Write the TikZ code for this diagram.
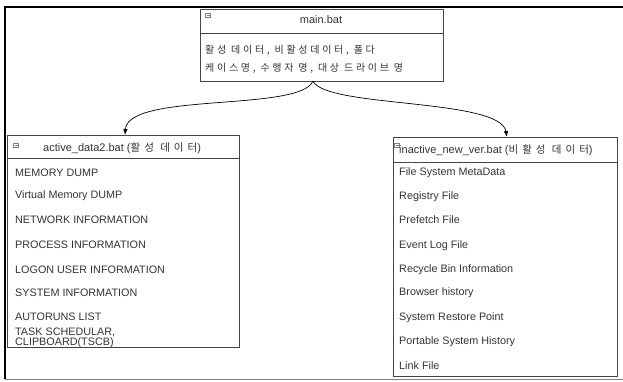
\documentclass[tikz,border=0pt]{standalone}
\usepackage{fontspec}
\setmainfont{Liberation Sans}
\newfontfamily\kr[LetterSpace=27]{Noto Sans CJK KR}
\newfontfamily\krt[LetterSpace=38]{Noto Sans CJK KR}
\usetikzlibrary{arrows.meta}
\definecolor{txt}{HTML}{333333}
\definecolor{bord}{HTML}{444444}
\begin{document}
\begin{tikzpicture}[x=1pt,y=-1pt,
  box/.style={draw=bord,line width=0.8pt,anchor=north west,inner sep=0pt},
  row/.style={anchor=west,inner sep=0pt,text=txt,font=\fontsize{10.8}{11}\selectfont},
  krow/.style={anchor=west,inner sep=0pt,text=txt,font=\kr\fontsize{10}{10}\selectfont},
  ttl/.style={inner sep=0pt,text=txt,font=\fontsize{11}{11}\selectfont},
  icon/.style={draw=gray,line width=0.5pt,minimum width=5pt,minimum height=4.5pt,inner sep=0pt},
  conn/.style={line width=0.7pt,-{Latex[length=6pt,width=4.5pt]}}]
\useasboundingbox (0,0) rectangle (623,381);
% frame
\draw[line width=2pt] (4,7) -- (623,7);
\draw[line width=2pt] (5,6) -- (5,379);
\draw[line width=0.8pt,gray] (5,379) -- (623,379);
% main box
\node[box,minimum width=243pt,minimum height=72pt] (main) at (200,9) {};
\draw[bord,line width=0.7pt] (200,33) -- (443,33);
\node[icon] (mi) at (208,15) {};
\draw[gray,line width=0.5pt] (206.5,15) -- (209.5,15);
\node[ttl] (mt) at (321,20) {main.bat};
\node[krow] (m1) at (205,50) {활성 데이터, 비활성데이터, 폴다};
\node[krow] (m2) at (205,68) {케이스명, 수행자 명, 대상 드라이브 명};
% left box
\node[box,minimum width=232pt,minimum height=212pt] (act) at (7,135) {};
\draw[bord,line width=0.7pt] (7,158) -- (239,158);
\node[icon] (ai) at (16,145) {};
\draw[gray,line width=0.5pt] (14.5,145) -- (17.5,145);
\node[ttl,anchor=west] (at) at (43,148) {active\_data2.bat ({\krt\fontsize{10.5}{10}\selectfont 활성 데이터})};
\node[row] (a1) at (15,173) {MEMORY DUMP};
\node[row] (a2) at (15,196) {Virtual Memory DUMP};
\node[row] (a3) at (15,220) {NETWORK INFORMATION};
\node[row] (a4) at (15,245) {PROCESS INFORMATION};
\node[row] (a5) at (15,270) {LOGON USER INFORMATION};
\node[row] (a6) at (15,293) {SYSTEM INFORMATION};
\node[row] (a7) at (15,317) {AUTORUNS LIST};
\node[row,align=left,font=\fontsize{10.8}{9.5}\selectfont] (a8) at (15,338) {TASK SCHEDULAR,\\CLIPBOARD(TSCB)};
% right box
\node[box,minimum width=224pt,minimum height=239pt] (ina) at (393,137) {};
\draw[bord,line width=0.7pt] (393,162) -- (617,162);
\node[icon] (ii) at (397,145) {};
\draw[gray,line width=0.5pt] (395.5,145) -- (398.5,145);
\node[ttl,anchor=west] (it) at (399,150) {inactive\_new\_ver.bat ({\krt\fontsize{10.5}{10}\selectfont 비활성 데이터})};
\node[row] (i1) at (399,173) {File System MetaData};
\node[row] (i2) at (399,197) {Registry File};
\node[row] (i3) at (399,220) {Prefetch File};
\node[row] (i4) at (399,246) {Event Log File};
\node[row] (i5) at (399,270) {Recycle Bin Information};
\node[row] (i6) at (399,293) {Browser history};
\node[row] (i7) at (399,318) {System Restore Point};
\node[row] (i8) at (399,342) {Portable System History};
\node[row] (i9) at (399,366) {Link File};
% connectors
\coordinate (ms) at (313,81);
\coordinate (at1) at (125,135);
\coordinate (it1) at (507,137);
\draw[conn] (ms) .. controls (300,112) and (128,92) .. (at1);
\draw[conn] (ms) .. controls (325,108) and (500,98) .. (it1);
\end{tikzpicture}
\end{document}
